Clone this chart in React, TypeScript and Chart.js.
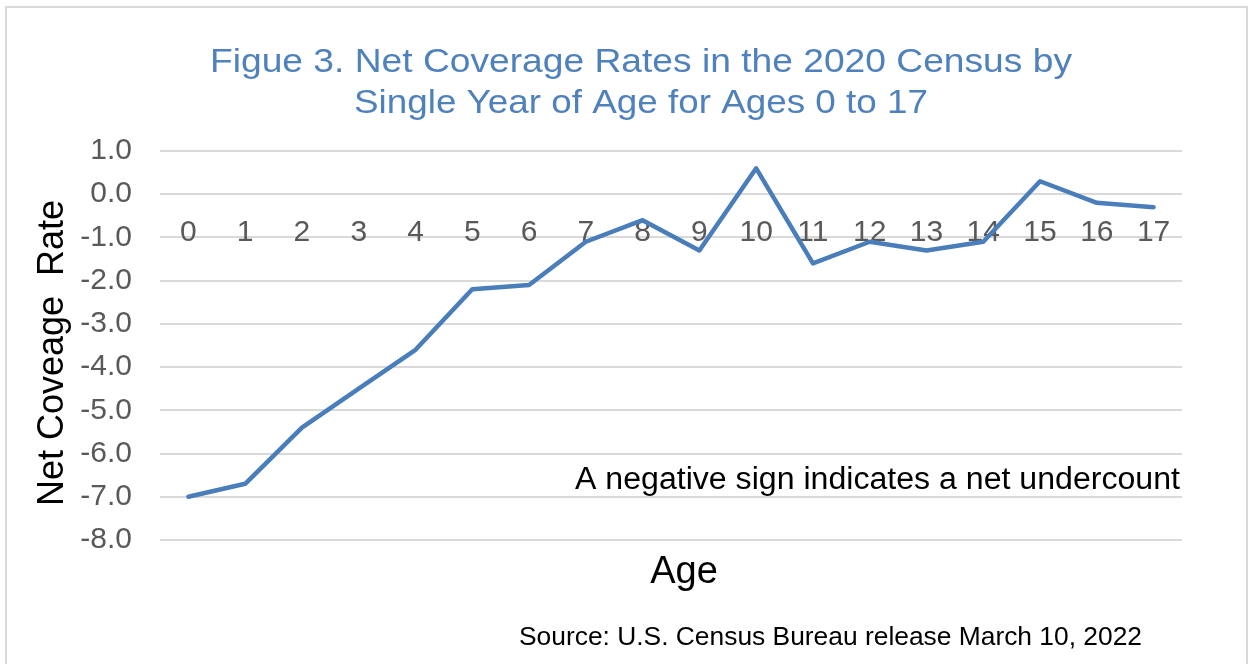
import React, { useEffect, useRef } from "react";
import { Chart, registerables } from "chart.js";

Chart.register(...registerables);

const TITLE_LINES = [
  "Figue 3. Net Coverage Rates in the 2020 Census by",
  "Single Year of Age for Ages 0 to 17",
];
const AGES = ["0","1","2","3","4","5","6","7","8","9","10","11","12","13","14","15","16","17"];
const NET_COVERAGE = [-7.0, -6.7, -5.4, -4.5, -3.6, -2.2, -2.1, -1.1, -0.6, -1.3, 0.6, -1.6, -1.1, -1.3, -1.1, 0.3, -0.2, -0.3];
const Y_MIN = -8;
const Y_MAX = 1;
const Y_TITLE = "Net Coveage  Rate";
const X_TITLE = "Age";
const NOTE = "A negative sign indicates a net undercount";
const SOURCE = "Source: U.S. Census Bureau release March 10, 2022";

const SANS = "'Liberation Sans', Arial, sans-serif";
const LINE_BLUE = "#4A7EBB";
const TITLE_BLUE = "#4F81BD";

function fitText(ctx: CanvasRenderingContext2D, text: string, x: number, y: number, width: number, align: "left" | "center" | "right") {
  const w = ctx.measureText(text).width;
  const k = width / w;
  ctx.save();
  ctx.textAlign = "left";
  const left = align === "left" ? x : align === "center" ? x - width / 2 : x - width;
  ctx.translate(left, y);
  ctx.scale(k, 1);
  ctx.fillText(text, 0, 0);
  ctx.restore();
}

const textPlugin = {
  id: "extraText",
  beforeDraw(chart: any) {
    const ctx = chart.ctx;
    ctx.save();
    ctx.fillStyle = "#ffffff";
    ctx.fillRect(0, 0, chart.width, chart.height);
    ctx.strokeStyle = "#D9D9D9";
    ctx.lineWidth = 2;
    ctx.strokeRect(6, 7, 1241, 700);
    ctx.restore();
  },
  afterDraw(chart: any) {
    const ctx = chart.ctx;
    const area = chart.chartArea;
    ctx.save();
    ctx.textBaseline = "alphabetic";
    // Title
    ctx.fillStyle = TITLE_BLUE;
    ctx.font = `34px ${SANS}`;
    fitText(ctx, TITLE_LINES[0], 641, 72, 862, "center");
    fitText(ctx, TITLE_LINES[1], 641, 113, 574, "center");
    ctx.fillStyle = "#000000";
    // Y title
    ctx.save();
    ctx.translate(63, 353);
    ctx.rotate(-Math.PI / 2);
    ctx.font = `36px ${SANS}`;
    ctx.textAlign = "center";
    ctx.fillText(Y_TITLE, 0, 0);
    ctx.restore();
    // Note
    ctx.font = `31px ${SANS}`;
    fitText(ctx, NOTE, area.right - 2, 489, 605, "right");
    // X title
    ctx.font = `38px ${SANS}`;
    ctx.textAlign = "center";
    ctx.fillText(X_TITLE, 684, 583);
    // Source
    ctx.font = `26px 'Liberation Sans Narrow', 'Arial Narrow', ${SANS}`;
    fitText(ctx, SOURCE, 519, 645, 623, "left");
    ctx.restore();
  },
};

export default function App() {
  const ref = useRef<HTMLCanvasElement | null>(null);
  useEffect(() => {
    if (!ref.current) return;
    const chart = new Chart(ref.current, {
      type: "line",
      data: {
        labels: AGES,
        datasets: [
          {
            label: "Net Coverage Rate",
            data: NET_COVERAGE,
            borderColor: LINE_BLUE,
            backgroundColor: LINE_BLUE,
            borderWidth: 4.5,
            pointRadius: 0,
            tension: 0,
            borderJoinStyle: "round",
            borderCapStyle: "round",
          },
        ],
      },
      options: {
        responsive: false,
        animation: false,
        layout: { padding: { top: 151, right: 74, bottom: 124, left: 0 } },
        plugins: {
          legend: { display: false },
          tooltip: { enabled: false },
          title: { display: false },
        },
        scales: {
          x: {
            type: "category",
            position: { y: 0 } as any,
            offset: true,
            grid: { display: false, drawTicks: false },
            border: { display: false },
            ticks: {
              color: "#595959",
              font: { family: SANS, size: 30 },
              padding: 21,
              autoSkip: false,
              maxRotation: 0,
            },
          },
          y: {
            min: Y_MIN,
            max: Y_MAX,
            afterFit: (s: any) => {
              s.width = 160;
            },
            grid: { color: "#D9D9D9", lineWidth: 2, drawTicks: false },
            border: { display: false },
            ticks: {
              stepSize: 1,
              color: "#595959",
              font: { family: SANS, size: 30 },
              padding: 28,
              callback: (v: any) => Number(v).toFixed(1),
            },
          },
        },
      },
      plugins: [textPlugin],
    });
    return () => chart.destroy();
  }, []);
  return (
    <div style={{ position: "fixed", left: 0, top: 0, width: 1256, height: 664, background: "#fff" }}>
      <canvas ref={ref} width={1256} height={664} style={{ width: 1256, height: 664, display: "block" }} />
    </div>
  );
}
